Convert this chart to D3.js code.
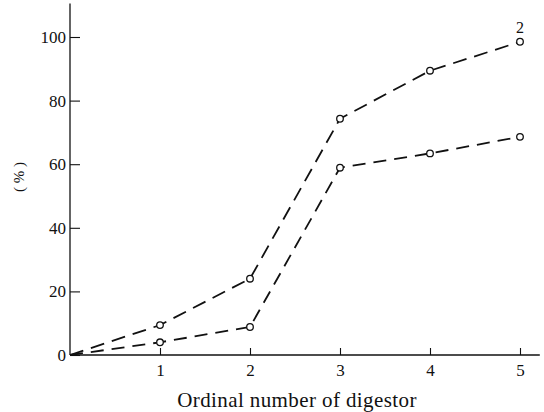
<!DOCTYPE html>
<html>
<head>
<meta charset="utf-8">
<script src="https://cdn.jsdelivr.net/npm/d3@7"></script>
<style>
  body { margin: 0; background: #fff; }
  text { font-family: "Liberation Serif", "DejaVu Serif", serif; fill: #111; }
</style>
</head>
<body>
<div id="chart"></div>
<script>
// digestor number on x, percent on y
const digestors = [0, 1, 2, 3, 4, 5];
const curve2 = [0, 9.4, 24, 74.3, 89.4, 98.5];
const curve1 = [0, 4, 8.8, 58.9, 63.4, 68.6];
const xTicks = [1, 2, 3, 4, 5];
const yTicks = [0, 20, 40, 60, 80, 100];

function drawChart(container) {
    const width = 544;
    const height = 412;

    const x = d3.scaleLinear().domain([0, 5]).range([70, 520]);
    const y = d3.scaleLinear().domain([0, 100]).range([355, 37]);

    const svg = d3.select(container).append("svg")
        .attr("width", width)
        .attr("height", height);

    // axes lines, a bit longer than the ticks
    svg.append("line")
        .attr("x1", x(0)).attr("x2", x(0))
        .attr("y1", y(0)).attr("y2", y(110.5))
        .attr("stroke", "#111").attr("stroke-width", 1.3);
    svg.append("line")
        .attr("x1", x(0)).attr("x2", x(5.22))
        .attr("y1", y(0)).attr("y2", y(0))
        .attr("stroke", "#111").attr("stroke-width", 1.3);

    const yAxis = d3.axisLeft(y)
        .tickValues(yTicks)
        .tickFormat(d3.format("d"))
        .tickSizeInner(-10)
        .tickSizeOuter(0)
        .tickPadding(4);
    const gy = svg.append("g")
        .attr("transform", `translate(${x(0)},0)`)
        .call(yAxis);
    gy.select(".domain").remove();
    gy.selectAll("line").attr("stroke", "#111").attr("stroke-width", 1.1);
    gy.selectAll("text")
        .style("font-size", "17px")
        .attr("fill", "#111");

    const xAxis = d3.axisBottom(x)
        .tickValues(xTicks)
        .tickFormat(d3.format("d"))
        .tickSizeInner(-7)
        .tickSizeOuter(0)
        .tickPadding(9);
    const gx = svg.append("g")
        .attr("transform", `translate(0,${y(0)})`)
        .call(xAxis);
    gx.select(".domain").remove();
    gx.selectAll("line").attr("stroke", "#111").attr("stroke-width", 1.1);
    gx.selectAll("text")
        .style("font-size", "17px")
        .attr("fill", "#111");

    const line = d3.line()
        .x((d, i) => x(digestors[i]))
        .y(d => y(d));

    svg.append("path")
        .datum(curve2)
        .attr("d", line)
        .attr("fill", "none")
        .attr("stroke", "#111")
        .attr("stroke-width", 1.8)
        .attr("stroke-dasharray", "14,8");

    svg.append("path")
        .datum(curve1)
        .attr("d", line)
        .attr("fill", "none")
        .attr("stroke", "#111")
        .attr("stroke-width", 1.8)
        .attr("stroke-dasharray", "13,8");

    [curve2, curve1].forEach(vals => {
        svg.append("g")
            .selectAll("circle")
            .data(vals.slice(1))
            .join("circle")
            .attr("cx", (d, i) => x(digestors[i + 1]))
            .attr("cy", d => y(d))
            .attr("r", 3.3)
            .attr("fill", "#fff")
            .attr("stroke", "#111")
            .attr("stroke-width", 1.3);
    });

    svg.append("text")
        .attr("x", x(5))
        .attr("y", y(curve2[5]) - 9)
        .attr("text-anchor", "middle")
        .style("font-size", "16px")
        .text("2");

    svg.append("text")
        .attr("transform", `translate(24,${y(56)}) rotate(-90)`)
        .attr("text-anchor", "middle")
        .style("font-size", "15px")
        .text("( % )");

    svg.append("text")
        .attr("x", 297)
        .attr("y", 407)
        .attr("text-anchor", "middle")
        .style("font-size", "21px")
        .style("letter-spacing", "0.4px")
        .text("Ordinal number of digestor");
}

drawChart("#chart");
</script>
</body>
</html>
